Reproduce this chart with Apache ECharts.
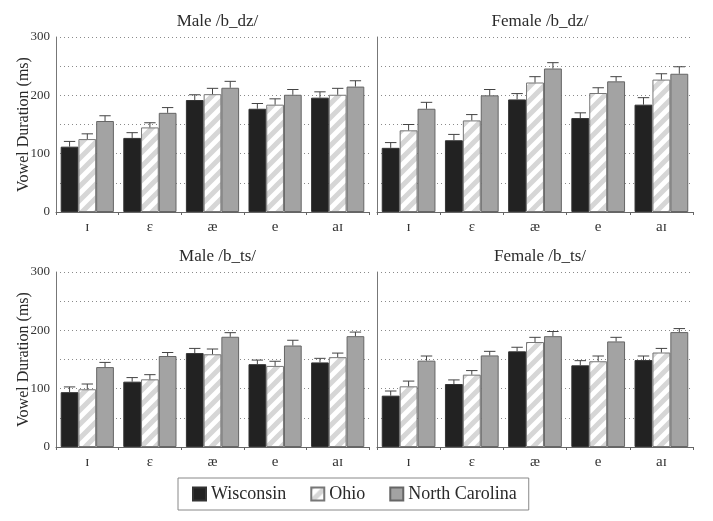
<!DOCTYPE html>
<html>
<head>
<meta charset="utf-8">
<script src="https://cdn.jsdelivr.net/npm/echarts@6/dist/echarts.min.js"></script>
<style>
html,body{margin:0;padding:0;background:#fff;}
#chart{width:713px;height:521px;}
</style>
</head>
<body>
<div id="chart"></div>
<script>
// ---- Data ----
var categories = ['ɪ', 'ɛ', 'æ', 'e', 'aɪ'];
var seriesNames = ['Wisconsin', 'Ohio', 'North Carolina'];
var panelTitles = ['Male /b_dz/', 'Female /b_dz/', 'Male /b_ts/', 'Female /b_ts/'];
var yTicks = [0, 100, 200, 300];

// Male /b_dz/
var maleDzWisconsin = [112, 127, 192, 177, 196];
var maleDzOhio      = [125, 145, 202, 184, 201];
var maleDzNC        = [156, 170, 213, 201, 215];
var maleDzWisconsinErr = [9, 9, 9, 9, 10];
var maleDzOhioErr      = [9, 8, 10, 10, 11];
var maleDzNCErr        = [9, 9, 11, 9, 10];

// Female /b_dz/
var femaleDzWisconsin = [110, 123, 193, 161, 184];
var femaleDzOhio      = [140, 157, 222, 204, 227];
var femaleDzNC        = [177, 200, 246, 224, 237];
var femaleDzWisconsinErr = [9, 10, 10, 9, 12];
var femaleDzOhioErr      = [10, 10, 10, 9, 10];
var femaleDzNCErr        = [11, 10, 10, 8, 12];

// Male /b_ts/
var maleTsWisconsin = [94, 112, 161, 142, 145];
var maleTsOhio      = [99, 116, 159, 139, 154];
var maleTsNC        = [137, 156, 189, 174, 190];
var maleTsWisconsinErr = [9, 7, 8, 7, 7];
var maleTsOhioErr      = [9, 8, 9, 8, 7];
var maleTsNCErr        = [8, 6, 7, 9, 7];

// Female /b_ts/
var femaleTsWisconsin = [88, 108, 164, 140, 149];
var femaleTsOhio      = [104, 124, 180, 147, 162];
var femaleTsNC        = [148, 157, 190, 181, 197];
var femaleTsWisconsinErr = [8, 7, 7, 8, 7];
var femaleTsOhioErr      = [9, 7, 8, 9, 7];
var femaleTsNCErr        = [8, 7, 8, 7, 6];

var panelValues = [
  [maleDzWisconsin, maleDzOhio, maleDzNC],
  [femaleDzWisconsin, femaleDzOhio, femaleDzNC],
  [maleTsWisconsin, maleTsOhio, maleTsNC],
  [femaleTsWisconsin, femaleTsOhio, femaleTsNC]
];
var panelErrors = [
  [maleDzWisconsinErr, maleDzOhioErr, maleDzNCErr],
  [femaleDzWisconsinErr, femaleDzOhioErr, femaleDzNCErr],
  [maleTsWisconsinErr, maleTsOhioErr, maleTsNCErr],
  [femaleTsWisconsinErr, femaleTsOhioErr, femaleTsNCErr]
];

// ---- Styles ----
var FONT = "'Liberation Serif', 'DejaVu Serif', serif";
var hatch = document.createElement('canvas');
hatch.width = 14; hatch.height = 14;
(function () {
  var c = hatch.getContext('2d');
  c.fillStyle = '#ffffff';
  c.fillRect(0, 0, 14, 14);
  c.strokeStyle = '#d6d6d6';
  c.lineWidth = 5;
  c.beginPath();
  c.moveTo(-2, 16); c.lineTo(16, -2);
  c.moveTo(-9, 9); c.lineTo(9, -9);
  c.moveTo(5, 23); c.lineTo(23, 5);
  c.stroke();
})();
var barColors = ['#222222', {image: hatch, repeat: 'repeat'}, '#a3a3a3'];
var barBorders = ['#333333', '#777777', '#666666'];

var grids = [
  {left: 56, top: 37, width: 313, height: 175},
  {left: 377, top: 37, width: 316, height: 175},
  {left: 56, top: 272, width: 313, height: 175},
  {left: 377, top: 272, width: 316, height: 175}
];
var CAT_GAP = 0.15;

var option = {
  animation: false,
  backgroundColor: '#ffffff',
  title: panelTitles.map(function (t, i) {
    var g = grids[i];
    return {
      text: t,
      left: g.left + g.width / 2,
      top: i < 2 ? 8 : 243,
      textAlign: 'center',
      textStyle: {fontFamily: FONT, fontSize: 17, fontWeight: 'normal', color: '#2a2a2a'}
    };
  }),
  legend: {
    data: seriesNames.map(function (n) { return {name: n, icon: 'rect'}; }),
    left: 178,
    top: 478,
    orient: 'horizontal',
    itemWidth: 13,
    itemHeight: 13,
    itemGap: 24,
    padding: [7, 12, 7, 14],
    borderColor: '#888',
    borderWidth: 1,
    textStyle: {fontFamily: FONT, fontSize: 18, color: '#2a2a2a'}
  },
  grid: grids,
  xAxis: grids.map(function (g, i) {
    return {
      type: 'category',
      gridIndex: i,
      data: categories,
      axisLine: {lineStyle: {color: '#666', width: 1}},
      axisTick: {show: true, length: 3, lineStyle: {color: '#666'}},
      axisLabel: {fontFamily: FONT, fontSize: 15, color: '#333', margin: 8}
    };
  }),
  yAxis: grids.map(function (g, i) {
    var left = (i % 2 === 0);
    return {
      type: 'value',
      gridIndex: i,
      min: 0, max: 300, interval: 50,
      name: left ? 'Vowel Duration (ms)' : '',
      nameLocation: 'middle',
      nameGap: 24,
      nameMoveOverlap: false,
      nameTextStyle: {fontFamily: FONT, fontSize: 16, color: '#2a2a2a'},
      axisLine: {show: true, lineStyle: {color: '#777', width: 1}},
      axisTick: {show: false},
      axisLabel: {
        show: left,
        fontFamily: FONT, fontSize: 13, color: '#333', margin: 6,
        formatter: function (v) { return yTicks.indexOf(v) >= 0 ? String(v) : ''; }
      },
      splitLine: {show: true, lineStyle: {color: '#8a8a8a', type: [1, 3], width: 1}}
    };
  }),
  series: []
};

panelValues.forEach(function (vals, p) {
  vals.forEach(function (arr, k) {
    option.series.push({
      type: 'bar',
      name: seriesNames[k],
      xAxisIndex: p,
      yAxisIndex: p,
      data: arr,
      barGap: '0%',
      barCategoryGap: (CAT_GAP * 100) + '%',
      itemStyle: {color: barColors[k], borderColor: barBorders[k], borderWidth: 1}
    });
  });
  vals.forEach(function (arr, k) {
    var errs = panelErrors[p][k];
    option.series.push({
      type: 'custom',
      name: 'err' + p + '_' + k,
      xAxisIndex: p,
      yAxisIndex: p,
      z: 5,
      data: arr.map(function (v, j) { return [j, v, errs[j]]; }),
      encode: {x: 0, y: 1},
      renderItem: (function (kk) {
        return function (params, api) {
          var c = api.value(0), v = api.value(1), e = api.value(2);
          var band = api.size([1, 0])[0];
          var bw = band * (1 - CAT_GAP) / 3;
          var base = api.coord([c, v]);
          var top = api.coord([c, v + e]);
          var x = base[0] + (kk - 1) * bw;
          var cap = bw * 0.32;
          var st = {stroke: '#444', lineWidth: 1, fill: null};
          return {
            type: 'group',
            children: [
              {type: 'line', shape: {x1: x, y1: base[1], x2: x, y2: top[1]}, style: st},
              {type: 'line', shape: {x1: x - cap, y1: top[1], x2: x + cap, y2: top[1]}, style: st}
            ]
          };
        };
      })(k)
    });
  });
});

var chart = echarts.init(document.getElementById('chart'), null, {renderer: 'canvas'});
chart.setOption(option);
</script>
</body>
</html>
